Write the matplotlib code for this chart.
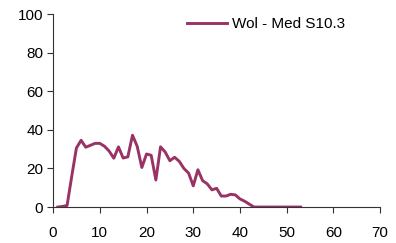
import matplotlib.pyplot as plt
import numpy as np

plt.rcParams['font.family'] = ['Liberation Sans', 'DejaVu Sans']

# dane
x = list(range(1, 54))
y = [0, 0.3, 0.8, 16, 30.6, 34.6, 31, 32, 33, 33,
     31.5, 29, 25.3, 31.2, 25.4, 26, 37.2, 31.5, 20.5, 27.5,
     26.8, 14, 31.2, 28.5, 24, 25.8, 23.7, 20, 17.6, 11,
     19.3, 13.7, 12, 8.9, 9.7, 5.7, 5.7, 6.6, 6.3, 4.2,
     3, 1.5, 0, 0, 0, 0, 0, 0, 0, 0,
     0, 0, 0]
seria = "Wol - Med S10.3"

fig = plt.figure(figsize=(3.96, 2.43), dpi=100)
ax = fig.add_axes([0.134, 0.148, 0.826, 0.794])
ax.plot(x, y, color="#993366", linewidth=2.1, label=seria)

ax.set_xlim(0, 70)
ax.set_ylim(0, 100)
ax.set_xticks(range(0, 71, 10))
ax.set_yticks(range(0, 101, 20))
ax.spines['top'].set_visible(False)
ax.spines['right'].set_visible(False)
for s in ['left', 'bottom']:
    ax.spines[s].set_color("#333333")
    ax.spines[s].set_linewidth(0.8)
ax.tick_params(direction='out', length=4, width=0.8, color="#333333", labelsize=11, pad=10)
ax.tick_params(axis='y', pad=3)

ax.legend(loc='upper left', bbox_to_anchor=(187 / 396, 1 - 17 / 243), bbox_transform=fig.transFigure,
          frameon=False, fontsize=11, handlelength=2.6, handletextpad=0.35, borderpad=0, borderaxespad=0)

fig.savefig("out.png", dpi=100)
